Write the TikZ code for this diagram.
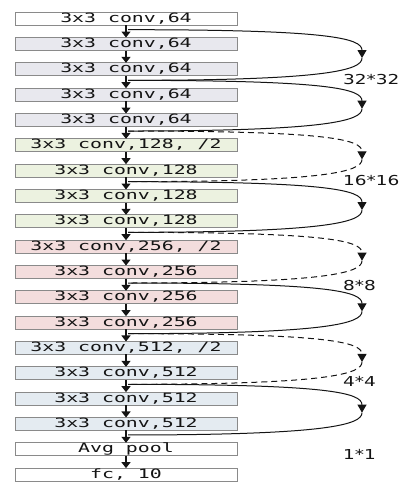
\documentclass[tikz,border=0pt]{standalone}
\usepackage{fontspec}
\usetikzlibrary{positioning, arrows.meta, calc}
\newfontfamily\boxfont[FakeStretch=1.55]{DejaVu Sans Mono}
\newfontfamily\sizefont[FakeStretch=1.35]{DejaVu Sans}
\definecolor{boxline}{RGB}{138,138,138}
\definecolor{grayfill}{RGB}{232,232,238}
\definecolor{greenfill}{RGB}{236,242,224}
\definecolor{pinkfill}{RGB}{243,221,221}
\definecolor{bluefill}{RGB}{228,235,241}
\definecolor{inkblack}{RGB}{20,20,20}

\begin{document}
\begin{tikzpicture}[
  x=1pt, y=-1pt,
  node distance=12.33pt,
  layer/.style={draw=boxline, line width=0.9pt, minimum width=222pt, minimum height=13pt, inner sep=0pt, outer sep=0pt, text height=9.3pt, text depth=2.4pt, font={\boxfont\fontsize{12.8}{13}\selectfont}, text=inkblack},
  flow/.style={-{Triangle[width=9pt, length=6pt]}, line width=1.3pt, inkblack},
  skip/.style={line width=1pt, inkblack},
  skiptip/.style={skip, -{Triangle[width=9pt, length=8pt]}},
  down/.style={dash pattern=on 6pt off 4pt},
  size/.style={font={\sizefont\fontsize{13.7}{14}\selectfont}, text=inkblack, anchor=west, inner sep=0pt}
]
  \useasboundingbox (0,0) rectangle (404,489);

  % layers
  \node[layer, fill=white] (b1) at (126,18.7) {3x3 conv,64};
  \node[layer, fill=grayfill, below=of b1] (b2) {3x3 conv,64};
  \node[layer, fill=grayfill, below=of b2] (b3) {3x3 conv,64};
  \node[layer, fill=grayfill, below=of b3] (b4) {3x3 conv,64};
  \node[layer, fill=grayfill, below=of b4] (b5) {3x3 conv,64};
  \node[layer, fill=greenfill, below=of b5] (b6) {3x3 conv,128, /2};
  \node[layer, fill=greenfill, below=of b6] (b7) {3x3 conv,128};
  \node[layer, fill=greenfill, below=of b7] (b8) {3x3 conv,128};
  \node[layer, fill=greenfill, below=of b8] (b9) {3x3 conv,128};
  \node[layer, fill=pinkfill, below=of b9] (b10) {3x3 conv,256, /2};
  \node[layer, fill=pinkfill, below=of b10] (b11) {3x3 conv,256};
  \node[layer, fill=pinkfill, below=of b11] (b12) {3x3 conv,256};
  \node[layer, fill=pinkfill, below=of b12] (b13) {3x3 conv,256};
  \node[layer, fill=bluefill, below=of b13] (b14) {3x3 conv,512, /2};
  \node[layer, fill=bluefill, below=of b14] (b15) {3x3 conv,512};
  \node[layer, fill=bluefill, below=of b15] (b16) {3x3 conv,512};
  \node[layer, fill=bluefill, below=of b16] (b17) {3x3 conv,512};
  \node[layer, fill=white, below=of b17] (b18) {Avg pool};
  \node[layer, fill=white, below=of b18] (b19) {fc, 10};

  % forward arrows
  \foreach \i [evaluate=\i as \j using int(\i+1)] in {1,...,18}
    \draw[flow] (b\i.south) -- (b\j.north);

  % junctions of the shortcuts
  \foreach \i in {1,3,...,17}
    \coordinate (j\i) at ($(b\i.south)+(2,4.5)$);

  % shortcuts
  \foreach \a/\b/\kind in {1/3/, 3/5/, 5/7/down, 7/9/, 9/11/down, 11/13/, 13/15/down, 15/17/} {
    \coordinate (r\a) at ($(j\a)!0.5!(j\b)+(234,3)$);
    \draw[skiptip, \kind] (j\a) .. controls +(200,0) and +(0,-20) .. (r\a);
    \draw[skip, \kind] (r\a) .. controls +(0,12) and +(200,0) .. (j\b);
  }

  % feature map sizes
  \node[size] (s32) at (343,80) {32*32};
  \node[size] (s16) at (343,181) {16*16};
  \node[size] (s8) at (343,286) {8*8};
  \node[size] (s4) at (343,381) {4*4};
  \node[size] (s1) at (343,454) {1*1};
\end{tikzpicture}
\end{document}
